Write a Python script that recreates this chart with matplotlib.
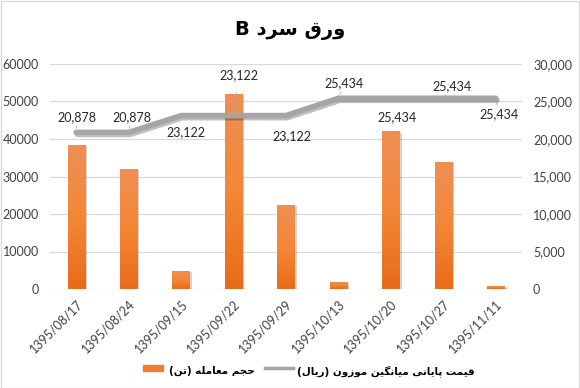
import numpy as np
import matplotlib
matplotlib.use("Agg")
import matplotlib.pyplot as plt
import matplotlib.patheffects as pe
from matplotlib.lines import Line2D
from matplotlib.patches import Rectangle
from matplotlib.ticker import FuncFormatter, MultipleLocator

# Data
dates = ["1395/08/17", "1395/08/24", "1395/09/15", "1395/09/22", "1395/09/29",
         "1395/10/13", "1395/10/20", "1395/10/27", "1395/11/11"]
volume = [38400, 32100, 4900, 52100, 22400, 1950, 42100, 33900, 880]
price = [20878, 20878, 23122, 23122, 23122, 25434, 25434, 25434, 25434]
# label offsets (pixels) for the price labels
label_offsets = [(1, 15), (3, 15), (5, -17), (5, 40), (6, -21),
                 (6, 15), (6, -19), (9, 12), (3, -16)]

title_text = "ورق سرد B"
bar_label = "حجم معامله (تن)"
line_label = "قیمت پایانی میانگین موزون (ریال)"

# minimal Persian shaping: (isolated, final, initial, medial)
FORMS = {
    "ا": ("\uFE8D", "\uFE8E", None, None),
    "ب": ("\uFE8F", "\uFE90", "\uFE91", "\uFE92"),
    "پ": ("\uFB56", "\uFB57", "\uFB58", "\uFB59"),
    "ت": ("\uFE95", "\uFE96", "\uFE97", "\uFE98"),
    "ج": ("\uFE9D", "\uFE9E", "\uFE9F", "\uFEA0"),
    "ح": ("\uFEA1", "\uFEA2", "\uFEA3", "\uFEA4"),
    "د": ("\uFEA9", "\uFEAA", None, None),
    "ر": ("\uFEAD", "\uFEAE", None, None),
    "ز": ("\uFEAF", "\uFEB0", None, None),
    "س": ("\uFEB1", "\uFEB2", "\uFEB3", "\uFEB4"),
    "ع": ("\uFEC9", "\uFECA", "\uFECB", "\uFECC"),
    "ق": ("\uFED5", "\uFED6", "\uFED7", "\uFED8"),
    "گ": ("\uFB92", "\uFB93", "\uFB94", "\uFB95"),
    "ل": ("\uFEDD", "\uFEDE", "\uFEDF", "\uFEE0"),
    "م": ("\uFEE1", "\uFEE2", "\uFEE3", "\uFEE4"),
    "ن": ("\uFEE5", "\uFEE6", "\uFEE7", "\uFEE8"),
    "ه": ("\uFEE9", "\uFEEA", "\uFEEB", "\uFEEC"),
    "و": ("\uFEED", "\uFEEE", None, None),
    "ی": ("\uFBFC", "\uFBFD", "\uFBFE", "\uFBFF"),
}


def shape(text):
    out = []
    for i, c in enumerate(text):
        if c not in FORMS:
            out.append(c)
            continue
        prev = text[i - 1] if i > 0 else ""
        nxt = text[i + 1] if i + 1 < len(text) else ""
        join_prev = prev in FORMS and FORMS[prev][2] is not None
        join_next = FORMS[c][2] is not None and nxt in FORMS
        iso, fin, ini, med = FORMS[c]
        if join_prev and join_next:
            out.append(med)
        elif join_prev:
            out.append(fin)
        elif join_next:
            out.append(ini)
        else:
            out.append(iso)
    return "".join(out)[::-1].translate(str.maketrans("()", ")("))


plt.rcParams["font.family"] = ["Lato", "DejaVu Sans"]

W, H = 580, 388
fig = plt.figure(figsize=(W / 100, H / 100), dpi=100)
ax = fig.add_axes([50 / W, 1 - 289 / H, 472 / W, 225 / H])
ax2 = ax.twinx()

x = np.arange(len(dates))
bar_color = "#F07E2E"
line_color = "#A5A5A5"
bars = ax.bar(x, volume, width=0.33, color=bar_color, zorder=2,
              path_effects=[pe.SimplePatchShadow(offset=(1.5, -1), alpha=0.2), pe.Normal()])

# vertical gradient inside each bar
grad = np.linspace(0, 1, 100).reshape(-1, 1)
cmap = matplotlib.colors.LinearSegmentedColormap.from_list("g", ["#E86C1A", "#F48736", "#EF8E55"])
for b in bars:
    im = ax.imshow(grad, cmap=cmap, origin="lower", aspect="auto", zorder=2,
                   extent=[b.get_x(), b.get_x() + b.get_width(), 0, b.get_height()])
    im.set_clip_path(b)

ax.set_xlim(-0.5, len(dates) - 0.5)
ax.set_ylim(0, 60000)
ax.yaxis.set_major_locator(MultipleLocator(10000))
ax.grid(axis="y", color="#D9D9D9", linewidth=0.9, zorder=0)
ax.set_axisbelow(True)
ax.tick_params(axis="both", length=0, labelsize=9, colors="#404040")
ax.tick_params(axis="y", pad=8)
ax.set_xticks(x)
ax.set_xticklabels(dates, rotation=45, ha="right", rotation_mode="anchor")
ax.tick_params(axis="x", pad=6)

ax2.plot(x, price, color=line_color, linewidth=4, solid_capstyle="round",
         solid_joinstyle="round", zorder=3,
         path_effects=[pe.SimpleLineShadow(offset=(1, -1.5), alpha=0.25), pe.Normal()])
ax2.set_ylim(0, 30000)
ax2.yaxis.set_major_locator(MultipleLocator(5000))
ax2.yaxis.set_major_formatter(FuncFormatter(lambda v, p: f"{int(v):,}"))
ax2.tick_params(axis="y", length=0, labelsize=9, colors="#404040", pad=8)

for xi, yi, (dx, dy) in zip(x, price, label_offsets):
    ax2.annotate(f"{yi:,}", (xi, yi), xytext=(dx, dy), textcoords="offset pixels",
                 ha="center", va="center", fontsize=9, color="#262626",
                 arrowprops=dict(arrowstyle="-", color=line_color, lw=0.6,
                                 shrinkA=6, shrinkB=3))

for a in (ax, ax2):
    for s in a.spines.values():
        s.set_visible(False)

fig.text(0.5, 1 - 31 / H, shape(title_text), ha="center", va="center",
         fontsize=14, fontweight="bold", family="DejaVu Sans")

# legend drawn by hand to match the reference placement
leg_font = dict(family="DejaVu Sans", weight="bold", size=7.5, color="#000000")
fig.add_artist(Rectangle((143 / W, 1 - 371 / H), 20 / W, 6 / H,
                         transform=fig.transFigure, color=bar_color))
fig.text(169 / W, 1 - 371 / H, shape(bar_label), ha="left", va="center", **leg_font)
fig.add_artist(Line2D([265 / W, 293 / W], [1 - 368 / H, 1 - 368 / H],
                      transform=fig.transFigure, color=line_color, linewidth=2.5))
fig.text(297 / W, 1 - 371 / H, shape(line_label), ha="left", va="center", **leg_font)

# light chart border
fig.add_artist(Rectangle((0.5 / W, 0.5 / H), 1 - 1.5 / W, 1 - 1.5 / H,
                         transform=fig.transFigure, fill=False,
                         edgecolor="#D9D9D9", linewidth=1))

fig.savefig("out.png", dpi=100)
